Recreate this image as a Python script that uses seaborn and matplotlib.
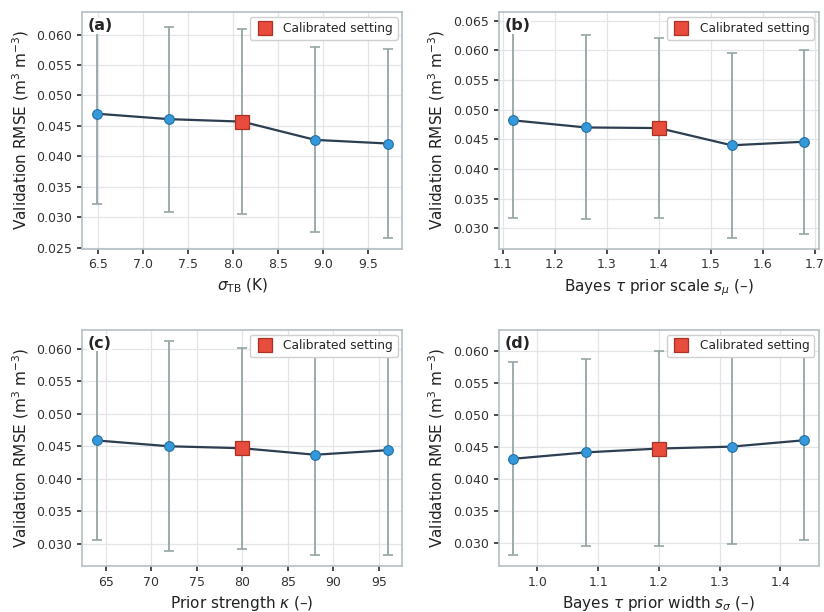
import numpy as np
import pandas as pd
import matplotlib
matplotlib.use("Agg")
import matplotlib.pyplot as plt
import seaborn as sns

# ---- data ----
x_a = [6.48, 7.29, 8.10, 8.91, 9.72]
rmse_a = [0.0470, 0.0461, 0.0457, 0.0427, 0.0421]
err_a = [0.0149, 0.0152, 0.0152, 0.0152, 0.0155]

x_b = [1.12, 1.26, 1.40, 1.54, 1.68]
rmse_b = [0.0482, 0.0470, 0.0469, 0.0440, 0.0446]
err_b = [0.0164, 0.0155, 0.0152, 0.0156, 0.0155]

x_c = [64, 72, 80, 88, 96]
rmse_c = [0.0459, 0.0450, 0.0447, 0.0437, 0.0444]
err_c = [0.0154, 0.0162, 0.0155, 0.0154, 0.0162]

x_d = [0.96, 1.08, 1.20, 1.32, 1.44]
rmse_d = [0.0431, 0.0441, 0.0447, 0.0450, 0.0460]
err_d = [0.0151, 0.0146, 0.0152, 0.0153, 0.0156]

calib_index = 2
panel_labels = ["(a)", "(b)", "(c)", "(d)"]
xlabels = [r"$\sigma_{\mathrm{TB}}$ (K)",
           r"Bayes $\tau$ prior scale $s_{\mu}$ (–)",
           r"Prior strength $\kappa$ (–)",
           r"Bayes $\tau$ prior width $s_{\sigma}$ (–)"]
ylabel = r"Validation RMSE (m$^3$ m$^{-3}$)"
legend_label = "Calibrated setting"

sns.set_theme(style="whitegrid")
plt.rcParams["font.family"] = ["DejaVu Sans"]
plt.rcParams.update({
    "axes.edgecolor": "#b4c0c4",
    "axes.linewidth": 1.2,
    "grid.color": "#e3e6e8",
    "grid.linewidth": 0.9,
    "xtick.bottom": True,
    "ytick.left": True,
    "xtick.color": "#333333",
    "ytick.color": "#333333",
    "xtick.major.size": 3.5,
    "ytick.major.size": 3.5,
    "xtick.labelsize": 9,
    "ytick.labelsize": 9,
    "axes.labelsize": 11,
    "axes.labelcolor": "#222222",
})

fig, axes = plt.subplots(2, 2, figsize=(8.24, 6.12), dpi=100)
fig.subplots_adjust(left=0.0995, right=0.994, top=0.980, bottom=0.075,
                    wspace=0.30, hspace=0.343)

datasets = [(x_a, rmse_a, err_a), (x_b, rmse_b, err_b),
            (x_c, rmse_c, err_c), (x_d, rmse_d, err_d)]

for ax, (xs, ys, es), lab, xl in zip(axes.flat, datasets, panel_labels, xlabels):
    df = pd.DataFrame({"x": xs, "y": ys, "e": es})
    ax.errorbar(df["x"], df["y"], yerr=df["e"], fmt="none", ecolor="#95a5a6",
                elinewidth=1.3, capsize=3.5, capthick=1.2, zorder=2)
    sns.lineplot(data=df, x="x", y="y", ax=ax, color="#2c3e50", linewidth=1.6,
                 marker="o", markersize=7, markerfacecolor="#3498db",
                 markeredgecolor="#2471a3", markeredgewidth=0.8, zorder=3)
    cal = df.iloc[[calib_index]]
    ax.plot(cal["x"], cal["y"], linestyle="none", marker="s", markersize=10,
            markerfacecolor="#e74c3c", markeredgecolor="#a93226",
            markeredgewidth=0.9, zorder=4, label=legend_label)
    ax.set_xlabel(xl)
    ax.set_ylabel(ylabel)
    ax.yaxis.set_major_formatter(matplotlib.ticker.FormatStrFormatter("%.3f"))
    ax.text(0.018, 0.975, lab, transform=ax.transAxes, fontsize=11.5,
            fontweight="bold", va="top", ha="left", zorder=6,
            bbox=dict(facecolor="white", edgecolor="none", pad=0.3))
    leg = ax.legend(loc="upper right", fontsize=8.8, frameon=True,
                    framealpha=1.0, edgecolor="#d0d0d0", fancybox=True,
                    borderpad=0.4, handletextpad=0.7, borderaxespad=0.4,
                    handlelength=1.6)
    leg.set_zorder(7)
    ax.grid(True)

axes[0, 0].set_xticks([6.5, 7.0, 7.5, 8.0, 8.5, 9.0, 9.5])
axes[0, 1].set_xticks([1.1, 1.2, 1.3, 1.4, 1.5, 1.6, 1.7])
axes[1, 0].set_xticks([65, 70, 75, 80, 85, 90, 95])
axes[1, 1].set_xticks([1.0, 1.1, 1.2, 1.3, 1.4])

fig.savefig("out.png", dpi=100)
